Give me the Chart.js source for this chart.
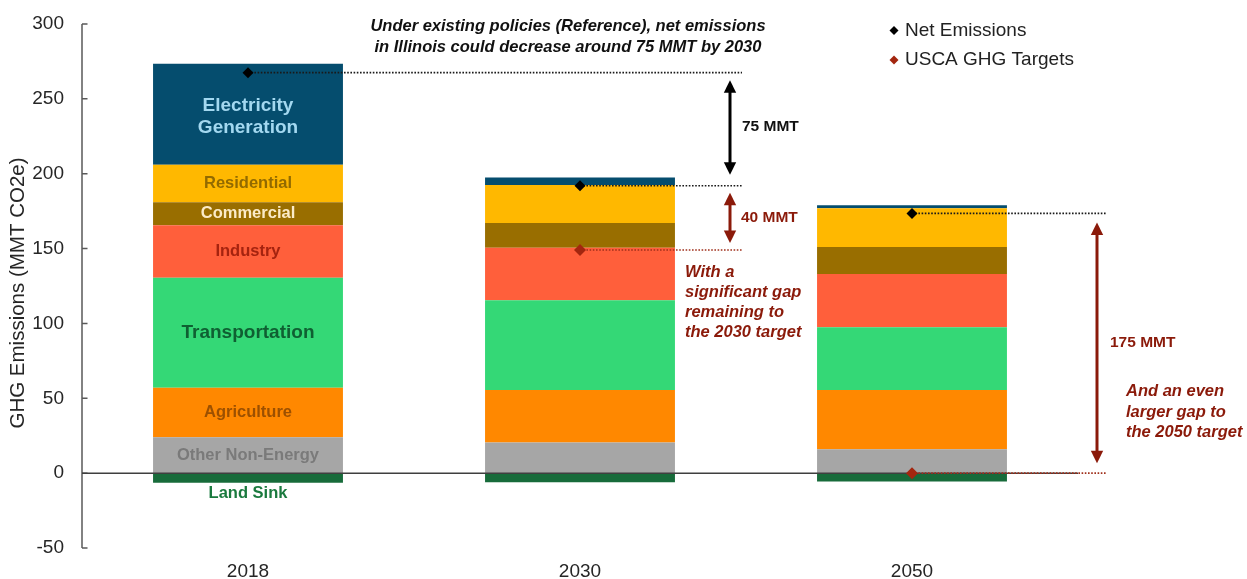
<!DOCTYPE html>
<html>
<head>
<meta charset="utf-8">
<title>Illinois GHG Emissions</title>
<script src="https://cdn.jsdelivr.net/npm/chart.js@4.4.0/dist/chart.umd.min.js"></script>
<style>
  html, body { margin: 0; padding: 0; background: #ffffff; }
  #wrap { width: 1247px; height: 579px; position: relative; }
</style>
</head>
<body>
<div id="wrap"><canvas id="chart"></canvas></div>
<script>
// Emissions by sector, MMT CO2e
const CATEGORIES = ['2018', '2030', '2050'];
const OTHER_NON_ENERGY = [24, 20.5, 16];
const AGRICULTURE = [33, 35, 39.5];
const TRANSPORTATION = [73.5, 60, 42];
const INDUSTRY = [35, 35, 35.5];
const COMMERCIAL = [15.5, 16.5, 18];
const RESIDENTIAL = [25, 25.5, 26];
const ELECTRICITY = [67.5, 5, 2];
const LAND_SINK = [-6.5, -6, -5.5];
const NET_EMISSIONS = [267.5, 192, 173.5];
const GHG_TARGETS = [null, 149, 0];
const Y_TICKS = [-50, 0, 50, 100, 150, 200, 250, 300];
const SECTOR_NAMES = ['Other Non-Energy', 'Agriculture', 'Transportation', 'Industry',
                      'Commercial', 'Residential', 'Electricity Generation', 'Land Sink'];
const GAP_LABELS = ['75 MMT', '40 MMT', '175 MMT'];

const FONT = '"Liberation Sans", Arial, Helvetica, sans-serif';
const RED = '#8B1A0A';
const TARGET_RED = '#A3260F';

const sectors = [
  { data: OTHER_NON_ENERGY, color: '#A6A6A6', text: '#7A7A7A', size: 16.5 },
  { data: AGRICULTURE,      color: '#FF8800', text: '#9C5000', size: 16.5 },
  { data: TRANSPORTATION,   color: '#34D876', text: '#0F5F32', size: 19 },
  { data: INDUSTRY,         color: '#FF5F3B', text: '#A5230F', size: 16.5 },
  { data: COMMERCIAL,       color: '#996E00', text: '#FBEBC8', size: 16.5 },
  { data: RESIDENTIAL,      color: '#FFB800', text: '#926A00', size: 16.5 },
  { data: ELECTRICITY,      color: '#054D6E', text: '#A3D8F0', size: 19 },
  { data: LAND_SINK,        color: '#176B3A', text: '#1A7A3E', size: 16.5 }
];

const datasets = sectors.map((s, i) => ({
  type: 'bar',
  label: SECTOR_NAMES[i],
  data: s.data,
  backgroundColor: s.color,
  borderWidth: 0,
  stack: 'sectors',
  order: 2,
  categoryPercentage: 1,
  barPercentage: 0.572
}));

// markers sit on their own stacks so they keep their own values
datasets.push({
  type: 'line',
  label: 'USCA GHG Targets',
  data: GHG_TARGETS,
  stack: 'targets',
  showLine: false,
  pointStyle: 'rectRot',
  pointRadius: 6,
  pointBackgroundColor: TARGET_RED,
  pointBorderColor: TARGET_RED,
  pointBorderWidth: 0,
  clip: false,
  order: 1
});
datasets.push({
  type: 'line',
  label: 'Net Emissions',
  data: NET_EMISSIONS,
  stack: 'net',
  showLine: false,
  pointStyle: 'rectRot',
  pointRadius: 5.5,
  pointBackgroundColor: '#000000',
  pointBorderColor: '#000000',
  pointBorderWidth: 0,
  clip: false,
  order: 0
});

function dotted(ctx, x1, x2, y, color) {
  ctx.save();
  ctx.strokeStyle = color;
  ctx.lineWidth = 1.6;
  ctx.setLineDash([1.6, 1.6]);
  ctx.beginPath();
  ctx.moveTo(x1, y);
  ctx.lineTo(x2, y);
  ctx.stroke();
  ctx.restore();
}

function doubleArrow(ctx, x, yTop, yBottom, color) {
  const head = 12.5, hw = 6.2;
  ctx.save();
  ctx.strokeStyle = color;
  ctx.fillStyle = color;
  ctx.lineWidth = 3;
  ctx.beginPath();
  ctx.moveTo(x, yTop + head - 1);
  ctx.lineTo(x, yBottom - head + 1);
  ctx.stroke();
  ctx.beginPath();
  ctx.moveTo(x, yTop);
  ctx.lineTo(x - hw, yTop + head);
  ctx.lineTo(x + hw, yTop + head);
  ctx.closePath();
  ctx.fill();
  ctx.beginPath();
  ctx.moveTo(x, yBottom);
  ctx.lineTo(x - hw, yBottom - head);
  ctx.lineTo(x + hw, yBottom - head);
  ctx.closePath();
  ctx.fill();
  ctx.restore();
}

function diamond(ctx, x, y, r, color) {
  ctx.save();
  ctx.fillStyle = color;
  ctx.beginPath();
  ctx.moveTo(x, y - r);
  ctx.lineTo(x + r, y);
  ctx.lineTo(x, y + r);
  ctx.lineTo(x - r, y);
  ctx.closePath();
  ctx.fill();
  ctx.restore();
}

function textLines(ctx, lines, x, y0, step, font, color, align) {
  ctx.save();
  ctx.font = font;
  ctx.fillStyle = color;
  ctx.textAlign = align;
  ctx.textBaseline = 'middle';
  lines.forEach((t, i) => ctx.fillText(t, x, y0 + i * step));
  ctx.restore();
}

// Axis line, zero line and dotted connectors: above the bars, below the diamonds
function drawGuides(chart) {
  const ctx = chart.ctx;
  const xs = chart.scales.x, ys = chart.scales.y;
  const area = chart.chartArea;
  ctx.save();
  ctx.strokeStyle = '#595959';
  ctx.lineWidth = 1.5;
  ctx.beginPath();
  ctx.moveTo(area.left, ys.getPixelForValue(Y_TICKS[Y_TICKS.length - 1]));
  ctx.lineTo(area.left, ys.getPixelForValue(Y_TICKS[0]));
  Y_TICKS.forEach(v => {
    const py = ys.getPixelForValue(v);
    ctx.moveTo(area.left, py);
    ctx.lineTo(area.left + 5.5, py);
  });
  ctx.stroke();
  ctx.strokeStyle = '#3F3F3F';
  ctx.beginPath();
  ctx.moveTo(area.left, ys.getPixelForValue(0));
  ctx.lineTo(area.right, ys.getPixelForValue(0));
  ctx.stroke();
  ctx.restore();

  const c0 = xs.getPixelForValue(0), c1 = xs.getPixelForValue(1), c2 = xs.getPixelForValue(2);
  const end2030 = c1 + 162, end2050 = c2 + 195;
  dotted(ctx, c0, end2030, ys.getPixelForValue(NET_EMISSIONS[0]), '#1A1A1A');
  dotted(ctx, c1, end2030, ys.getPixelForValue(NET_EMISSIONS[1]), '#1A1A1A');
  dotted(ctx, c1, end2030, ys.getPixelForValue(GHG_TARGETS[1]), '#A0301C');
  dotted(ctx, c2, end2050, ys.getPixelForValue(NET_EMISSIONS[2]), '#1A1A1A');
  dotted(ctx, c2, end2050, ys.getPixelForValue(GHG_TARGETS[2]), '#A0301C');
}

function drawAnnotations(chart) {
  const ctx = chart.ctx;
  const xs = chart.scales.x, ys = chart.scales.y;
  const c1 = xs.getPixelForValue(1), c2 = xs.getPixelForValue(2);

  // sector names inside the 2018 bar
  sectors.forEach((s, i) => {
    const bar = chart.getDatasetMeta(i).data[0];
    const name = SECTOR_NAMES[i];
    const font = 'bold ' + s.size + 'px ' + FONT;
    if (s.data[0] < 0) {
      textLines(ctx, [name], bar.x, Math.max(bar.y, bar.base) + 10.5, 0, font, s.text, 'center');
      return;
    }
    const mid = (bar.y + bar.base) / 2;
    if (name === 'Electricity Generation') {
      textLines(ctx, ['Electricity', 'Generation'], bar.x, mid - 8.5, 22.5, font, s.text, 'center');
    } else {
      textLines(ctx, [name], bar.x, mid, 0, font, s.text, 'center');
    }
  });

  // y axis title
  ctx.save();
  ctx.translate(18, 293);
  ctx.rotate(-Math.PI / 2);
  ctx.font = '20.5px ' + FONT;
  ctx.fillStyle = '#262626';
  ctx.textAlign = 'center';
  ctx.textBaseline = 'middle';
  ctx.fillText('GHG Emissions (MMT CO2e)', 0, 0);
  ctx.restore();

  // gap arrows
  const n0 = ys.getPixelForValue(NET_EMISSIONS[0]);
  const n1 = ys.getPixelForValue(NET_EMISSIONS[1]);
  const n2 = ys.getPixelForValue(NET_EMISSIONS[2]);
  const t1 = ys.getPixelForValue(GHG_TARGETS[1]);
  const t2 = ys.getPixelForValue(GHG_TARGETS[2]);
  doubleArrow(ctx, c1 + 150, n0 + 7.5, n1 - 11, '#000000');
  doubleArrow(ctx, c1 + 150, n1 + 7, t1 - 7, RED);
  doubleArrow(ctx, c2 + 185, n2 + 9, t2 - 10, RED);

  const gapFont = 'bold 15.5px ' + FONT;
  textLines(ctx, [GAP_LABELS[0]], c1 + 162, (n0 + n1) / 2 - 2, 0, gapFont, '#111111', 'left');
  textLines(ctx, [GAP_LABELS[1]], c1 + 161, (n1 + t1) / 2, 0, gapFont, RED, 'left');
  textLines(ctx, [GAP_LABELS[2]], c2 + 198, (n2 + t2) / 2 - 0.5, 0, gapFont, RED, 'left');

  const noteFont = 'italic bold 16.5px ' + FONT;
  textLines(ctx, ['With a', 'significant gap', 'remaining to', 'the 2030 target'],
            c1 + 105, 272.5, 20, noteFont, RED, 'left');
  textLines(ctx, ['And an even', 'larger gap to', 'the 2050 target'],
            c2 + 214, 391.5, 20.5, noteFont, RED, 'left');
  textLines(ctx, ['Under existing policies (Reference), net emissions',
                  'in Illinois could decrease around 75 MMT by 2030'],
            568, 26.5, 21, noteFont, '#111111', 'center');

  // legend
  diamond(ctx, 894, 30.5, 4.5, '#000000');
  diamond(ctx, 894, 60, 4.5, TARGET_RED);
  textLines(ctx, ['Net Emissions', 'USCA GHG Targets'], 905, 30.5, 29.5,
            '19px ' + FONT, '#222222', 'left');
}

const overlayPlugin = {
  id: 'overlay',
  beforeDraw(chart) { chart.$guidesDone = false; },
  beforeDatasetDraw(chart, args) {
    if (chart.$guidesDone) return;
    if (chart.data.datasets[args.index].type !== 'line') return;
    chart.$guidesDone = true;
    drawGuides(chart);
  },
  afterDraw(chart) { drawAnnotations(chart); }
};

new Chart(document.getElementById('chart'), {
  data: { labels: CATEGORIES, datasets: datasets },
  plugins: [overlayPlugin],
  options: {
    responsive: true,
    maintainAspectRatio: false,
    animation: false,
    events: [],
    layout: { padding: { left: 0, right: 169, top: 24, bottom: 0 } },
    plugins: { legend: { display: false }, tooltip: { enabled: false } },
    scales: {
      x: {
        stacked: true,
        grid: { display: false, drawTicks: false, tickLength: 0 },
        border: { display: false },
        ticks: { font: { family: FONT, size: 19 }, color: '#262626', padding: 12 },
        afterFit(scale) {
          scale.height = 31;
          scale.paddingLeft = 0;
          scale.paddingRight = 0;
        }
      },
      y: {
        stacked: true,
        min: Y_TICKS[0],
        max: Y_TICKS[Y_TICKS.length - 1],
        grid: { display: false, drawTicks: false, tickLength: 0 },
        border: { display: false },
        ticks: { font: { family: FONT, size: 19 }, color: '#262626', padding: 18 },
        afterBuildTicks(scale) { scale.ticks = Y_TICKS.map(v => ({ value: v })); },
        afterFit(scale) {
          scale.width = 82;
          scale.paddingTop = 0;
          scale.paddingBottom = 0;
        }
      }
    }
  }
});
</script>
</body>
</html>
